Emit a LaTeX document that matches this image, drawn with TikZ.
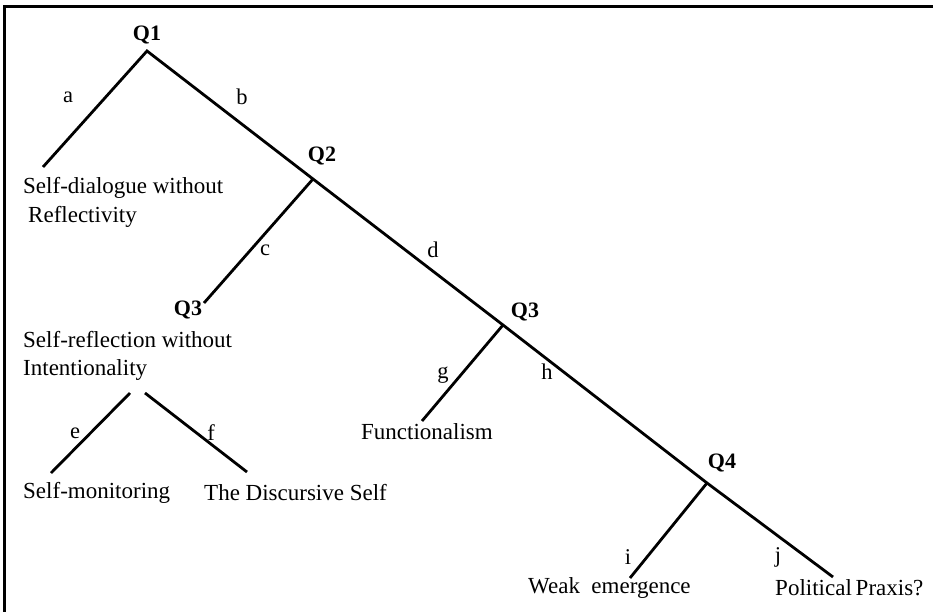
\documentclass[tikz,border=0pt]{standalone}
\usepackage{fontspec}
\setmainfont{Liberation Serif}
\begin{document}
\begin{tikzpicture}[x=1pt,y=-1pt,
  branch/.style={line width=2.8pt},
  frame/.style={line width=2.8pt},
  qlab/.style={font=\fontsize{22}{26}\selectfont\bfseries, inner sep=0pt},
  elab/.style={font=\fontsize{22.5}{26}\selectfont, inner sep=0pt},
  leaf/.style={font=\fontsize{23}{27}\selectfont, inner sep=0pt, anchor=west}]
\useasboundingbox (0,0) rectangle (933,612);
% frame (top and left edges)
\coordinate (ftl) at (4.8,6.7);
\coordinate (ftr) at (933,6.7);
\coordinate (fbl) at (4.8,612);
\draw[frame] (ftr) -- (ftl) -- (fbl);
% junctions and ends
\coordinate (j1) at (147,51);
\coordinate (j2) at (313,179);
\coordinate (j3) at (503,325);
\coordinate (j4) at (707,483);
\coordinate (jend) at (833,577);
\coordinate (aend) at (43,167);
\coordinate (cend) at (204,303);
\coordinate (etop) at (130,393);
\coordinate (eend) at (51,473);
\coordinate (ftop) at (145,393);
\coordinate (fend) at (247,472);
\coordinate (gend) at (422,421);
\coordinate (iend) at (630,578);
% labels
\node[qlab] (q1) at (147,35) {Q1};
\node[qlab] (q2) at (322,156) {Q2};
\node[qlab] (q3a) at (188,310) {Q3};
\node[qlab] (q3b) at (525,312) {Q3};
\node[qlab] (q4) at (722,463) {Q4};
\node[elab] (la) at (68,97) {a};
\node[elab] (lb) at (242,97) {b};
\node[elab] (lc) at (265,250) {c};
\node[elab] (ld) at (433,250) {d};
\node[elab] (le) at (75,433) {e};
\node[elab] (lf) at (211,433) {f};
\node[elab] (lg) at (443,375) {g};
\node[elab] (lh) at (547,372) {h};
\node[elab] (li) at (628,557) {i};
\node[elab] (lj) at (778,557) {j};
\node[leaf] (sd1) at (23,188) {Self-dialogue without};
\node[leaf] (sd2) at (28,217) {Reflectivity};
\node[leaf] (sr1) at (23,340) {Self-reflection without};
\node[leaf] (sr2) at (23,370) {Intentionality};
\node[leaf] (sm) at (23,493) {Self-monitoring};
\node[leaf] (tds) at (204,493) {The Discursive Self};
\node[leaf] (fn) at (361,432) {Functionalism};
\node[leaf] (we) at (528,588) {Weak\ \ emergence};
\node[leaf] (pp) at (775,588) {Political\,Praxis?};
% branches
\draw[branch] (aend) -- (j1) -- (j2) -- (j3) -- (j4) -- (jend);
\draw[branch] (j2) -- (cend);
\draw[branch] (etop) -- (eend);
\draw[branch] (ftop) -- (fend);
\draw[branch] (j3) -- (gend);
\draw[branch] (j4) -- (iend);
\end{tikzpicture}
\end{document}
